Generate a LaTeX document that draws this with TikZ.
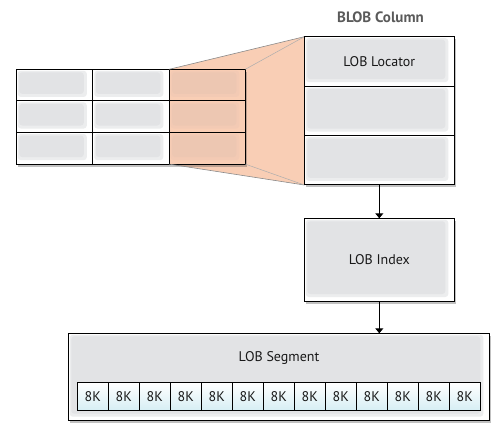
\documentclass[tikz,border=0pt]{standalone}
\usepackage{fontspec}
\setmainfont{PT Sans}
\usetikzlibrary{arrows.meta,shadows}
\definecolor{peach}{HTML}{F9CEB5}
\definecolor{peachin}{HTML}{EDC7B2}
\definecolor{bgray}{HTML}{E2E3E5}
\definecolor{bgrayl}{HTML}{ECEDEE}
\definecolor{titlegray}{HTML}{5A5A5A}
\definecolor{kcyan}{HTML}{D6EEF4}
\definecolor{funnelline}{HTML}{8A8A8A}
\tikzset{
  cell/.style={draw=black, line width=0.9pt, inner sep=0pt, outer sep=0pt, anchor=north west,
    drop shadow={shadow xshift=2pt, shadow yshift=-2.5pt, opacity=0.35, fill=black!70}},
  gbox/.style={cell, fill=white, path picture={
    \fill[bgrayl, rounded corners=3pt] ([shift={(1.5pt,-1.5pt)}]path picture bounding box.north west) rectangle ([shift={(-6pt,4pt)}]path picture bounding box.south east);
    \fill[bgray, rounded corners=3pt] ([shift={(3pt,-3pt)}]path picture bounding box.north west) rectangle ([shift={(-9pt,7pt)}]path picture bounding box.south east);}},
  pbox/.style={cell, fill=peach, path picture={
    \fill[peachin!50!peach, rounded corners=3pt] ([shift={(1.5pt,-1.5pt)}]path picture bounding box.north west) rectangle ([shift={(-6pt,4pt)}]path picture bounding box.south east);
    \fill[peachin, rounded corners=3pt] ([shift={(3pt,-3pt)}]path picture bounding box.north west) rectangle ([shift={(-9pt,7pt)}]path picture bounding box.south east);}},
  kbox/.style={draw=black, line width=0.8pt, inner sep=0pt, outer sep=0pt, anchor=north west,
    minimum width=31pt, minimum height=28.4pt, top color=white, bottom color=kcyan, font=\fontsize{14}{16}\selectfont, text=black!90},
  lbl/.style={font=\fontsize{14}{16}\selectfont, text=black!90},
  arr/.style={line width=0.9pt, -{Triangle[width=8pt,length=5pt]}},
}
\begin{document}
\begin{tikzpicture}[x=1pt,y=-1pt]
\useasboundingbox (0,0) rectangle (502,432);
% funnel
\coordinate (ftl) at (169.2,69.3);
\coordinate (fbl) at (169.2,164);
\coordinate (ftr) at (304.3,36.7);
\coordinate (fbr) at (304.3,185);
\fill[peach] (ftl) -- (ftr) -- (fbr) -- (fbl) -- cycle;
% table
\foreach \r/\y in {1/69.3,2/100.9,3/132.5}{
  \node[gbox, minimum width=76.5pt, minimum height=31.6pt] (c\r1) at (16.3,\y) {};
  \node[gbox, minimum width=76.5pt, minimum height=31.6pt] (c\r2) at (92.8,\y) {};
  \node[pbox, minimum width=76.1pt, minimum height=31.6pt] (c\r3) at (169.2,\y) {};
}
\draw[funnelline, line width=0.6pt] (c13.north west) -- (ftr);
\draw[funnelline, line width=0.6pt] (c33.south west) -- (fbr);
\draw[funnelline!70, line width=0.5pt] (c13.north east) -- (ftr);
\draw[funnelline!70, line width=0.5pt] (c33.south east) -- (fbr);
% BLOB column
\node[font=\bfseries\fontsize{15}{17}\selectfont, text=titlegray] (title) at (380.5,17) {BLOB Column};
\node[gbox, minimum width=150pt, minimum height=49.4pt, lbl] (r1) at (304.3,36.7) {LOB Locator};
\node[gbox, minimum width=150pt, minimum height=49.4pt] (r2) at (304.3,86.1) {};
\node[gbox, minimum width=150pt, minimum height=49.4pt] (r3) at (304.3,135.5) {};
% index
\node[gbox, minimum width=150pt, minimum height=82.7pt, lbl] (idx) at (304.3,218.3) {LOB Index};
% segment
\node[gbox, minimum width=421pt, minimum height=87.4pt] (seg) at (68.3,333.3) {};
\node[lbl] (segl) at (279,357.5) {LOB Segment};
\foreach \i in {1,...,13}{
  \node[kbox] (k\i) at ({77.3+31*(\i-1)},382.3) {8K};
}
% arrows
\draw[arr] (r3.south) -- (idx.north);
\draw[arr] (idx.south) -- (idx.south |- seg.north);
\end{tikzpicture}
\end{document}
